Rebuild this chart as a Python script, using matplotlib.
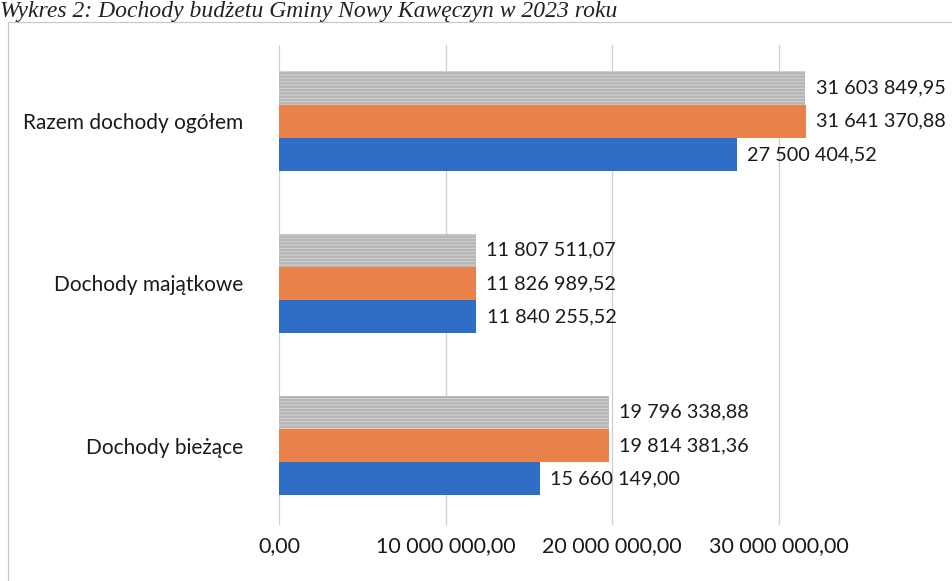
"""Wykres 2: dochody budżetu gminy - odtworzenie wykresu słupkowego."""

import matplotlib.pyplot as plt
import numpy as np
from matplotlib.patches import Rectangle
from matplotlib.ticker import FuncFormatter, MultipleLocator

categories = ["Dochody bieżące", "Dochody majątkowe", "Razem dochody ogółem"]
series_blue = [15660149.00, 11840255.52, 27500404.52]
series_orange = [19814381.36, 11826989.52, 31641370.88]
series_gray = [19796338.88, 11807511.07, 31603849.95]

TITLE = "Wykres 2: Dochody budżetu Gminy Nowy Kawęczyn w 2023 roku"

BLUE = "#2f6ec6"
ORANGE = "#e8814a"
GRAY = "#b6b6b6"


def pl_number(v: float) -> str:
    s = f"{v:,.2f}"
    return s.replace(",", " ").replace(".", ",")


plt.rcParams["font.family"] = ["Lato", "DejaVu Sans"]
plt.rcParams["hatch.linewidth"] = 0.6

fig = plt.figure(figsize=(9.52, 5.81), dpi=100)
ax = fig.add_axes([279 / 952, 1 - 525 / 581, (862 - 279) / 952, (525 - 45) / 581])

y = np.arange(len(categories))
h = 0.205
ax.barh(y - h, series_blue, height=h, color=BLUE)
ax.barh(y, series_orange, height=h, color=ORANGE)
ax.barh(y + h, series_gray, height=h, color=GRAY, hatch="-----",
        edgecolor="#d8d8d8", linewidth=0)

for offs, vals in ((-h, series_blue), (0, series_orange), (h, series_gray)):
    for yi, v in zip(y, vals):
        ax.text(v + 0.62e6, yi + offs, pl_number(v), va="center", ha="left",
                fontsize=14.3, color="#1a1a1a", clip_on=False)

ax.set_xlim(0, 35e6)
ax.set_ylim(-0.49, 2.47)
ax.xaxis.set_major_locator(MultipleLocator(10e6))
ax.xaxis.set_major_formatter(FuncFormatter(lambda v, p: pl_number(v)))
ax.set_yticks(y)
ax.set_yticklabels(categories)
ax.tick_params(axis="x", length=0, pad=8, labelsize=15.5, colors="#1a1a1a")
ax.tick_params(axis="y", length=0, pad=26, labelsize=15, colors="#1a1a1a")
ax.grid(axis="x", color="#cfcfcf", linewidth=0.9)
ax.set_axisbelow(True)
for sp in ax.spines.values():
    sp.set_visible(False)

# ramka wykresu
fig.patches.append(Rectangle((8 / 952, -0.05), 1.2, 1 - 22 / 581 + 0.05,
                             transform=fig.transFigure, fill=False,
                             edgecolor="#c8c8c8", linewidth=0.9))

fig.text(0.0, 1 - 17 / 581, TITLE, family="Liberation Serif", style="italic",
         fontsize=17, va="baseline", ha="left", color="#222222")

fig.savefig("out.png", dpi=100)
